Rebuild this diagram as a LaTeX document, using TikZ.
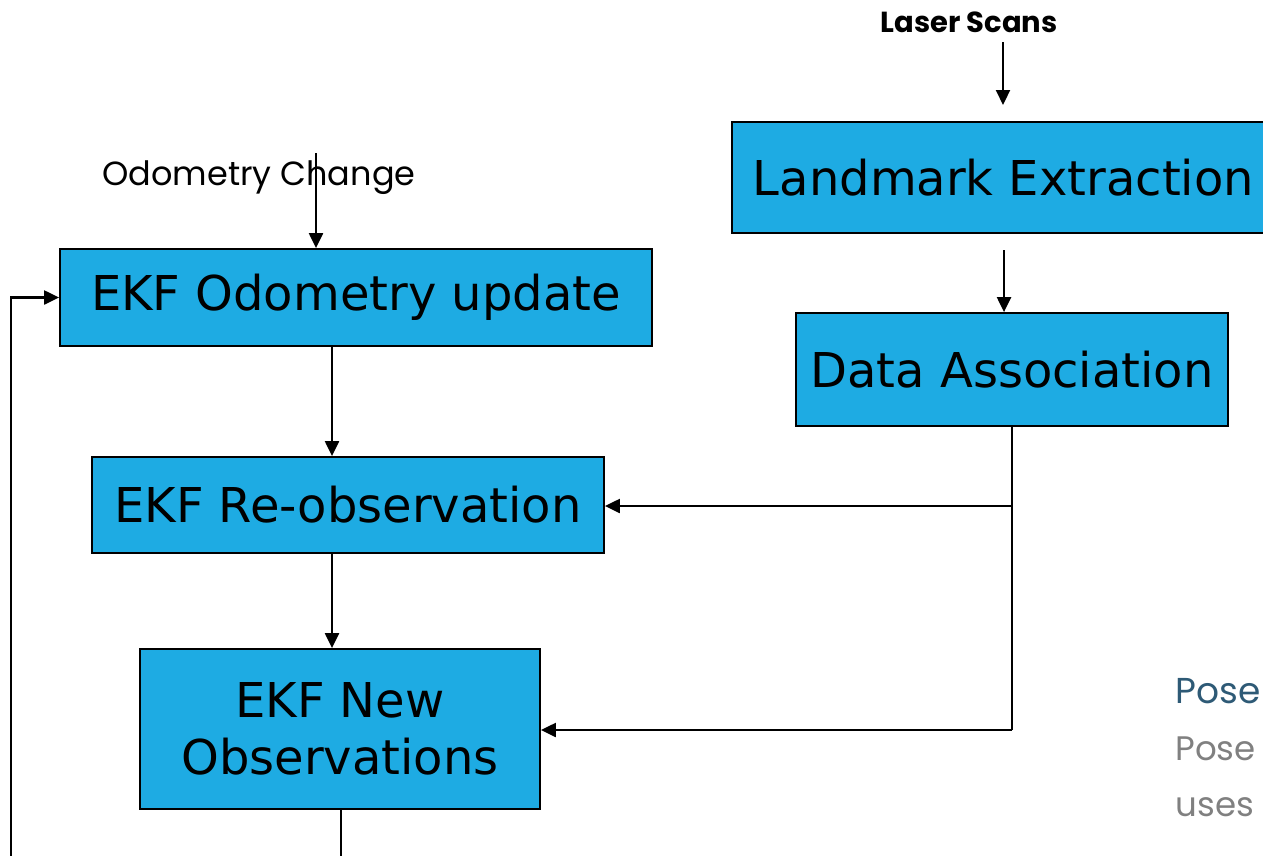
\documentclass[tikz,border=0pt]{standalone}
\usepackage{fontspec}
\setmainfont{DejaVu Sans}
\newfontfamily\geo{Poppins}
\usetikzlibrary{arrows.meta,calc}
\definecolor{boxblue}{RGB}{30,171,227}
\definecolor{posedark}{RGB}{46,90,118}
\definecolor{posegray}{RGB}{128,128,128}
\tikzset{
  blk/.style={draw=black,line width=1.8pt,fill=boxblue,inner sep=0pt,align=center,
    font=\fontsize{48}{56}\selectfont},
  conn/.style={line width=2.2pt,-{Triangle[width=14pt,length=15pt]}},
  wire/.style={line width=2.2pt}
}
\begin{document}
\begin{tikzpicture}[x=1pt,y=-1pt]
\useasboundingbox (0,0) rectangle (1263,855);
\clip (0,0) rectangle (1263,855);
% boxes
\node[blk,minimum width=543pt,minimum height=111pt] (le) at (1003.5,177.5) {Landmark Extraction};
\node[blk,minimum width=432pt,minimum height=113pt] (da) at (1012,369.5) {Data Association};
\node[blk,minimum width=592pt,minimum height=97pt] (eo) at (356,297.5) {EKF Odometry update};
\node[blk,minimum width=512pt,minimum height=96pt] (er) at (348,505) {EKF Re-observation};
\node[blk,minimum width=400pt,minimum height=160pt,font=\fontsize{48}{57}\selectfont] (en) at (340,729) {EKF New\\Observations};
% labels
\node[font=\geo\bfseries\fontsize{29}{32}\selectfont] (ls) at (969,22) {Laser Scans};
\node[font=\geo\fontsize{33.5}{36}\selectfont] (oc) at (259,178) {Odometry Change};
\node[font=\geo\fontsize{36}{40}\selectfont,text=posedark,anchor=west] (p1) at (1172,691) {Pose};
\node[font=\geo\fontsize{34}{38}\selectfont,text=posegray,anchor=west] (p2) at (1172,749) {Pose};
\node[font=\geo\fontsize{34}{38}\selectfont,text=posegray,anchor=west] (p3) at (1172,807) {uses};
% coordinates
\coordinate (lsA) at (1003,42);
\coordinate (lsB) at (1003,105);
\coordinate (leA) at (1004,250);
\coordinate (ocA) at (316,153);
\coordinate (daB) at (1012,730);
\coordinate (daM) at (1012,506);
\coordinate (fbA) at (11,860);
\coordinate (fbB) at (11,297.5);
\coordinate (enB) at (341,860);
% connectors
\draw[conn] (lsA) -- (lsB);
\draw[conn] (leA) -- (leA |- da.north);
\draw[conn] (ocA) -- (ocA |- eo.north);
\draw[conn] ($(eo.south)+(-24,0)$) -- ($(er.north)+(-16,0)$);
\draw[conn] ($(er.south)+(-16,0)$) -- ($(en.north)+(-8,0)$);
\draw[wire] (da.south) -- (daB);
\draw[conn] (daM) -- (daM -| er.east);
\draw[conn] (daB) -- (daB -| en.east);
\draw[wire] ($(en.south)+(1,0)$) -- (enB);
\draw[conn] (fbA) -- (fbB) -- (eo.west);
\end{tikzpicture}
\end{document}
